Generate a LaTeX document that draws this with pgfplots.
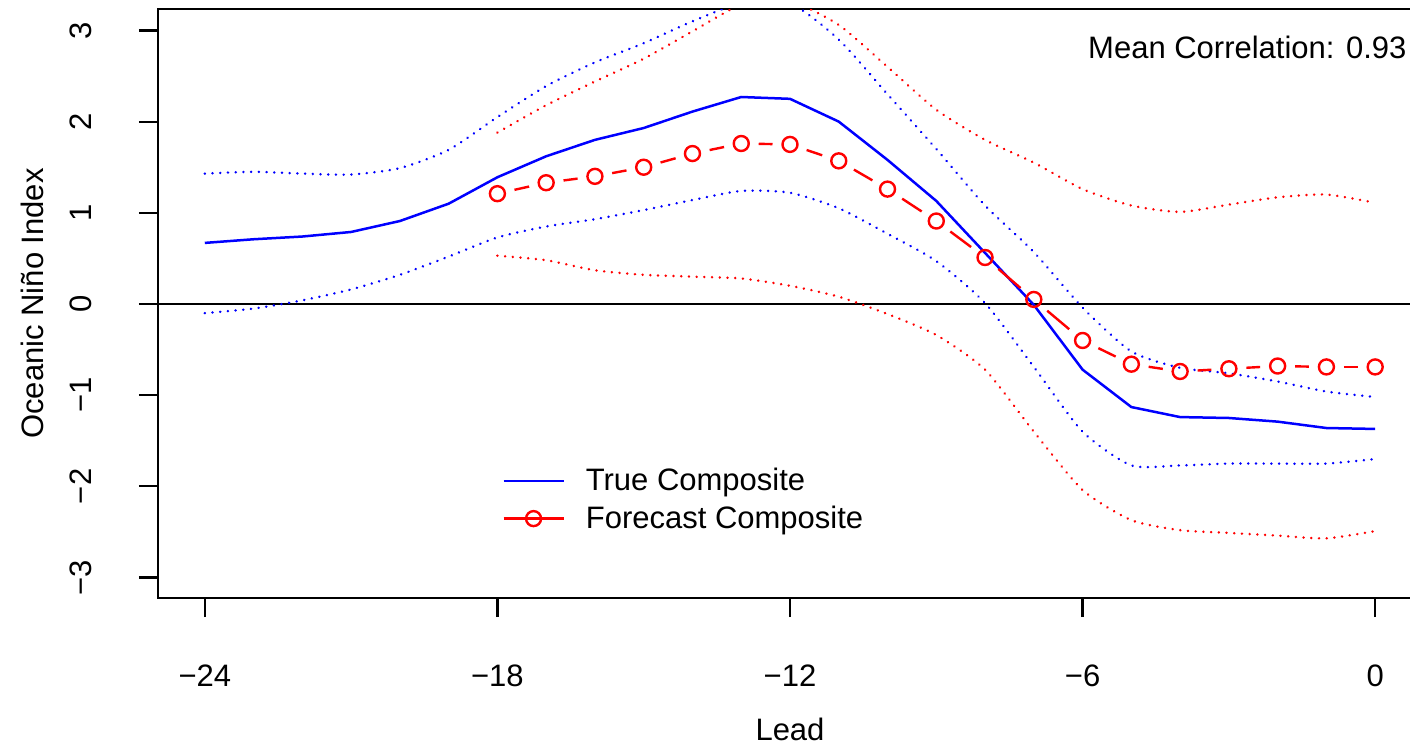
\documentclass[border=0pt]{standalone}
\usepackage{fontspec}
\setmainfont{Liberation Sans}
\usepackage{pgfplots}
\pgfplotsset{compat=1.18}
\usepackage{pgfplotstable}

\pgfplotstableread{
x y
-24 0.67
-23 0.71
-22 0.74
-21 0.79
-20 0.91
-19 1.10
-18 1.39
-17 1.62
-16 1.80
-15 1.93
-14 2.11
-13 2.27
-12 2.25
-11 2.00
-10 1.58
-9 1.13
-8 0.56
-7 -0.01
-6 -0.72
-5 -1.13
-4 -1.24
-3 -1.25
-2 -1.29
-1 -1.36
0 -1.37
}\truecomp

\pgfplotstableread{
x y
-24 1.43
-23 1.45
-22 1.43
-21 1.42
-20 1.49
-19 1.69
-18 2.05
-17 2.39
-16 2.65
-15 2.86
-14 3.10
-13 3.30
-12 3.30
-11 2.90
-10 2.30
-9 1.70
-8 1.08
-7 0.57
-6 -0.04
-5 -0.52
-4 -0.70
-3 -0.76
-2 -0.85
-1 -0.96
0 -1.02
}\trueupper

\pgfplotstableread{
x y
-24 -0.10
-23 -0.05
-22 0.04
-21 0.16
-20 0.32
-19 0.52
-18 0.73
-17 0.85
-16 0.93
-15 1.03
-14 1.14
-13 1.24
-12 1.22
-11 1.05
-10 0.77
-9 0.47
-8 0.01
-7 -0.69
-6 -1.40
-5 -1.77
-4 -1.77
-3 -1.75
-2 -1.75
-1 -1.75
0 -1.70
}\truelower

\pgfplotstableread{
x y
-18 1.21
-17 1.33
-16 1.40
-15 1.50
-14 1.65
-13 1.76
-12 1.75
-11 1.57
-10 1.26
-9 0.91
-8 0.51
-7 0.05
-6 -0.40
-5 -0.66
-4 -0.74
-3 -0.71
-2 -0.68
-1 -0.69
0 -0.69
}\forecast

% segments of the forecast line (start and next point)
\pgfplotstableread{
x y nx ny
-18 1.21 -17 1.33
-17 1.33 -16 1.40
-16 1.40 -15 1.50
-15 1.50 -14 1.65
-14 1.65 -13 1.76
-13 1.76 -12 1.75
-12 1.75 -11 1.57
-11 1.57 -10 1.26
-10 1.26 -9 0.91
-9 0.91 -8 0.51
-8 0.51 -7 0.05
-7 0.05 -6 -0.40
-6 -0.40 -5 -0.66
-5 -0.66 -4 -0.74
-4 -0.74 -3 -0.71
-3 -0.71 -2 -0.68
-2 -0.68 -1 -0.69
-1 -0.69 0 -0.69
}\forecastseg

\pgfplotstableread{
x y
-18 1.88
-17 2.18
-16 2.44
-15 2.69
-14 2.99
-13 3.28
-12 3.32
-11 3.06
-10 2.60
-9 2.13
-8 1.80
-7 1.55
-6 1.26
-5 1.08
-4 1.01
-3 1.09
-2 1.17
-1 1.20
0 1.11
}\fcupper

\pgfplotstableread{
x y
-18 0.53
-17 0.48
-16 0.37
-15 0.32
-14 0.30
-13 0.28
-12 0.20
-11 0.08
-10 -0.11
-9 -0.34
-8 -0.72
-7 -1.40
-6 -2.04
-5 -2.37
-4 -2.48
-3 -2.51
-2 -2.54
-1 -2.57
0 -2.49
}\fclower

\begin{document}
\begin{tikzpicture}[font=\fontsize{15.5}{18.6}\selectfont]
\begin{axis}[
  at={(0,0)}, anchor=south west,
  scale only axis, width=632pt, height=294.5pt,
  xmin=-24.96, xmax=0.96, ymin=-3.224, ymax=3.235,
  axis line style={line width=1.1pt},
  xtick={-24,-18,-12,-6,0}, xticklabels={−24,−18,−12,−6,0},
  ytick={-3,-2,-1,0,1,2,3}, yticklabels={−3,−2,−1,0,1,2,3},
  tick align=outside, major tick length=9.5pt,
  xtick pos=lower, ytick pos=left,
  tick style={line width=1.1pt, black},
  xticklabel style={anchor=center}, xticklabel shift=29.5pt,
  yticklabel style={anchor=center, rotate=90}, yticklabel shift=29pt,
  xlabel={Lead}, ylabel={Oceanic Niño Index},
  xlabel style={at={(axis description cs:0.5,-0.2230)}, anchor=center},
  ylabel style={at={(axis description cs:-0.0997,0.5)}, anchor=center},
  legend style={draw=none, fill=none, at={(axis description cs:0.2721,0.2275)}, anchor=north west, inner sep=0pt, row sep=2pt, column sep=8.5pt, font=\fontsize{15.5}{18.6}\selectfont},
  legend cell align=left,
  legend image code/.code={\draw[mark repeat=2,mark phase=2,#1] plot coordinates {(0pt,0pt) (15pt,0pt) (30pt,0pt)};},
  clip=true,
]
\addlegendimage{blue, line width=1.25pt}
\addlegendentry{True Composite}
\addlegendimage{red, line width=1.2pt, mark=o, mark size=3.75pt}
\addlegendentry{Forecast Composite}

\addplot[black, line width=1pt, forget plot] coordinates {(-30,0) (5,0)};

\addplot[blue, line width=1.35pt, line cap=round, dash pattern=on 0.01pt off 3.85pt, smooth, tension=0.4, forget plot] table {\trueupper};
\addplot[blue, line width=1.35pt, line cap=round, dash pattern=on 0.01pt off 3.85pt, smooth, tension=0.4, forget plot] table {\truelower};
\addplot[red, line width=1.35pt, line cap=round, dash pattern=on 0.01pt off 3.85pt, smooth, tension=0.4, forget plot] table {\fcupper};
\addplot[red, line width=1.35pt, line cap=round, dash pattern=on 0.01pt off 3.85pt, smooth, tension=0.4, forget plot] table {\fclower};

\addplot[blue, line width=1.25pt, forget plot] table {\truecomp};

\addplot[red, line width=1.2pt, forget plot,
  quiver={u={\thisrow{nx}-\thisrow{x}}, v={\thisrow{ny}-\thisrow{y}},
          every arrow/.append style={shorten <=8.75pt, shorten >=8.75pt}}]
  table[x=x, y=y] {\forecastseg};
\addplot[red, line width=1.2pt, only marks, mark=o, mark size=3.75pt, forget plot] table {\forecast};

\node[anchor=east, inner sep=0pt] at (rel axis cs:0.988,0.9355) {Mean Correlation: 0.93};
\end{axis}
\pgfresetboundingbox
\path[use as bounding box] (-79pt,-73.5pt) rectangle (626pt,299pt);
\end{tikzpicture}
\end{document}
